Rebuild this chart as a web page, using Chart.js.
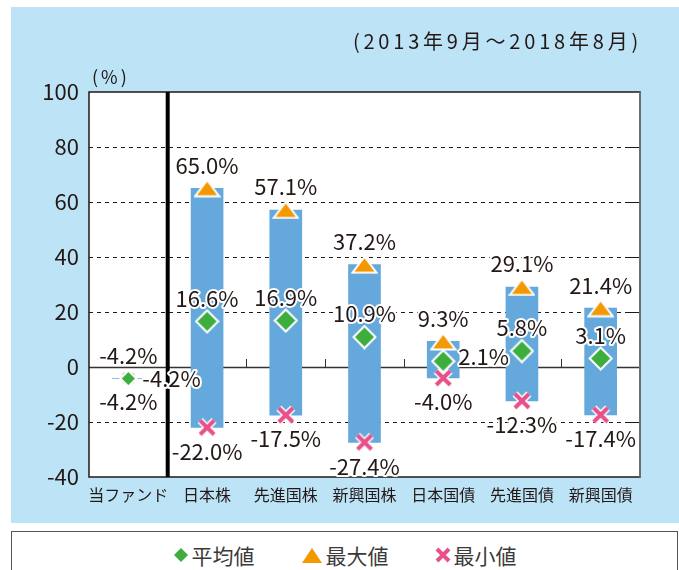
<!DOCTYPE html>
<html lang="ja">
<head>
<meta charset="utf-8">
<script src="https://cdn.jsdelivr.net/npm/chart.js@4.4.1/dist/chart.umd.min.js"></script>
<style>
  html, body { margin: 0; padding: 0; background: #fff; }
  body { width: 679px; height: 570px; position: relative; overflow: hidden;
         font-family: "Noto Sans CJK JP", "Noto Sans", sans-serif; color: #231815; }
  #panel { position: absolute; left: 11px; top: 7px; width: 668px; height: 516px; background: #bde3f7; }
  #chart { position: absolute; left: 0; top: 0; }
  #period { position: absolute; right: 37px; top: 22px; font-size: 20px; letter-spacing: 3.8px; line-height: 24px; }
  #unit { position: absolute; left: 81px; top: 58px; font-size: 18px; letter-spacing: 3px; line-height: 22px; }
  #legend { position: absolute; left: 11px; top: 531px; width: 665px; height: 50px;
            border: 1.5px solid #555; background: #fff; }
  #legend .row { position: absolute; left: 0; right: 0; top: 9px; height: 28px;
                 display: flex; justify-content: center; align-items: center; }
  #legend .item { display: flex; align-items: center; font-size: 21px; color: #3a3a3a; margin: 0 23px; }
  #legend svg { margin-right: 3px; }
</style>
</head>
<body>
<div id="panel">
  <canvas id="chart" width="668" height="516"></canvas>
  <div id="period">(2013年9月〜2018年8月)</div>
  <div id="unit">(%)</div>
</div>
<div id="legend">
  <div class="row">
    <div class="item"><svg width="16" height="16"><polygon points="8,1 15,8 8,15 1,8" fill="#3dae3d"/></svg>平均値</div>
    <div class="item"><svg width="22" height="17"><polygon points="11,1 21,16 1,16" fill="#f39800"/></svg>最大値</div>
    <div class="item"><svg width="16" height="16"><path d="M2 2 L14 14 M14 2 L2 14" stroke="#e8508a" stroke-width="4"/></svg>最小値</div>
  </div>
</div>
<script>
// データ
const categories = ['当ファンド', '日本株', '先進国株', '新興国株', '日本国債', '先進国債', '新興国債'];
const maxValues = [-4.2, 65.0, 57.1, 37.2, 9.3, 29.1, 21.4];
const avgValues = [-4.2, 16.6, 16.9, 10.9, 2.1, 5.8, 3.1];
const minValues = [-4.2, -22.0, -17.5, -27.4, -4.0, -12.3, -17.4];
const yTicks = [-40, -20, 0, 20, 40, 60, 80, 100];

const ranges = minValues.map((v, i) => [v, maxValues[i]]);

// マーカー画像
function diamond(w) {
  const c = document.createElement('canvas');
  const s = w + 4; c.width = s; c.height = s;
  const g = c.getContext('2d');
  g.beginPath();
  g.moveTo(s / 2, 1.5); g.lineTo(s - 1.5, s / 2); g.lineTo(s / 2, s - 1.5); g.lineTo(1.5, s / 2);
  g.closePath();
  g.fillStyle = '#3dae3d'; g.fill();
  g.strokeStyle = '#fff'; g.lineWidth = 2; g.stroke();
  return c;
}
function triangle(w, h) {
  const c = document.createElement('canvas');
  c.width = w + 4; c.height = h + 4;
  const g = c.getContext('2d');
  g.beginPath();
  g.moveTo(c.width / 2, 1.5); g.lineTo(c.width - 1.5, c.height - 1.5); g.lineTo(1.5, c.height - 1.5);
  g.closePath();
  g.fillStyle = '#f39800'; g.fill();
  g.strokeStyle = '#fff'; g.lineWidth = 2; g.stroke();
  return c;
}
function cross(w, lw) {
  const c = document.createElement('canvas');
  const s = w + 8; c.width = s; c.height = s;
  const g = c.getContext('2d');
  const a = 4, b = s - 4;
  const path = () => { g.beginPath(); g.moveTo(a, a); g.lineTo(b, b); g.moveTo(b, a); g.lineTo(a, b); };
  path(); g.strokeStyle = '#fff'; g.lineWidth = lw + 3; g.stroke();
  path(); g.strokeStyle = '#e8508a'; g.lineWidth = lw; g.stroke();
  return c;
}
const dia = diamond(21), diaS = diamond(15);
const tri = triangle(23, 15), triS = triangle(15, 10);
const crs = cross(14, 4), crsS = cross(10, 3);

// 目盛り線・区切り線
const frame = {
  id: 'frame',
  beforeDatasetsDraw(chart) {
    const { ctx, chartArea: a, scales: { x, y } } = chart;
    ctx.save();
    ctx.fillStyle = '#fff';
    ctx.fillRect(a.left, a.top, a.right - a.left, a.bottom - a.top);
    yTicks.forEach(v => {
      const py = Math.round(y.getPixelForValue(v)) + 0.5;
      if (v === 100 || v === -40) return;
      ctx.beginPath();
      if (v === 0) {
        ctx.setLineDash([]); ctx.strokeStyle = '#333'; ctx.lineWidth = 1.5;
        ctx.moveTo(a.left, py); ctx.lineTo(a.right, py); ctx.stroke();
      } else {
        ctx.setLineDash([4, 4]); ctx.strokeStyle = '#231815'; ctx.lineWidth = 1;
        ctx.moveTo(a.left, py); ctx.lineTo(a.right - 13, py); ctx.stroke();
        ctx.beginPath(); ctx.setLineDash([]);
        ctx.moveTo(a.right - 13, py); ctx.lineTo(a.right, py); ctx.stroke();
      }
    });
    // 0線上の小さい目盛り
    const y0 = y.getPixelForValue(0);
    ctx.setLineDash([]); ctx.strokeStyle = '#333'; ctx.lineWidth = 1;
    for (let i = 2; i < categories.length; i++) {
      const px = Math.round((x.getPixelForValue(i - 1) + x.getPixelForValue(i)) / 2) + 0.5;
      ctx.beginPath(); ctx.moveTo(px, y0 - 8); ctx.lineTo(px, y0); ctx.stroke();
    }
    // 枠
    ctx.strokeStyle = '#231815'; ctx.lineWidth = 1.5;
    ctx.strokeRect(a.left, a.top, a.right - a.left, a.bottom - a.top);
    ctx.strokeStyle = '#6e6e6e'; ctx.lineWidth = 2;
    ctx.beginPath(); ctx.moveTo(a.right, a.top); ctx.lineTo(a.right, a.bottom); ctx.stroke();
    // 当ファンドの区切り
    const dx = (x.getPixelForValue(0) + x.getPixelForValue(1)) / 2;
    ctx.strokeStyle = '#000'; ctx.lineWidth = 4;
    ctx.beginPath(); ctx.moveTo(dx, a.top); ctx.lineTo(dx, a.bottom); ctx.stroke();
    ctx.restore();
  }
};

// 数値ラベル
const valueLabels = {
  id: 'valueLabels',
  afterDatasetsDraw(chart) {
    const ctx = chart.ctx;
    ctx.save();
    ctx.font = '22px "Noto Sans CJK JP"';
    ctx.textBaseline = 'middle';
    ctx.lineJoin = 'round';
    const put = (t, px, py, align) => {
      ctx.textAlign = align;
      ctx.strokeStyle = '#fff'; ctx.lineWidth = 4; ctx.strokeText(t, px, py);
      ctx.fillStyle = '#231815'; ctx.fillText(t, px, py);
    };
    const fmt = v => v.toFixed(1) + '%';
    const avgM = chart.getDatasetMeta(1), maxM = chart.getDatasetMeta(2), minM = chart.getDatasetMeta(3);
    categories.forEach((c, i) => {
      const pm = maxM.data[i], pa = avgM.data[i], pn = minM.data[i];
      put(fmt(maxValues[i]), pm.x, pm.y - 23, 'center');
      if (i === 0) put(fmt(avgValues[i]), pa.x + 14, pa.y, 'left');
      else if (i === 4) put(fmt(avgValues[i]), pa.x + 15, pa.y - 5, 'left');
      else put(fmt(avgValues[i]), pa.x, pa.y - 23, 'center');
      put(fmt(minValues[i]), pn.x, pn.y + (i === 0 ? 23 : 24), 'center');
    });
    ctx.restore();
  }
};

const font = { family: '"Noto Sans CJK JP"' };

new Chart(document.getElementById('chart').getContext('2d'), {
  data: {
    labels: categories,
    datasets: [
      { type: 'bar', label: 'range', data: ranges, backgroundColor: '#64a8dc',
        borderWidth: 0, barThickness: 32, order: 10 },
      { type: 'line', label: '平均値', data: avgValues, showLine: false, order: 1,
        pointStyle: c => c.dataIndex === 0 ? diaS : dia, pointRadius: 10 },
      { type: 'line', label: '最大値', data: maxValues, showLine: false, order: 2,
        pointStyle: c => c.dataIndex === 0 ? triS : tri, pointRadius: 10 },
      { type: 'line', label: '最小値', data: minValues, showLine: false, order: 3,
        pointStyle: c => c.dataIndex === 0 ? crsS : crs, pointRadius: 10 }
    ]
  },
  options: {
    responsive: false,
    animation: false,
    layout: { padding: { top: 85, right: 39, left: 0, bottom: 0 } },
    plugins: { legend: { display: false }, tooltip: { enabled: false } },
    scales: {
      x: {
        grid: { display: false, drawTicks: false },
        border: { display: false },
        ticks: { color: '#231815', font: { ...font, size: 16 }, padding: 8, maxRotation: 0, autoSkip: false },
        afterFit: s => { s.height = 46; }
      },
      y: {
        min: -40, max: 100,
        grid: { display: false, drawTicks: false },
        border: { display: false },
        ticks: { color: '#231815', font: { ...font, size: 22 }, padding: 10 },
        afterBuildTicks: s => { s.ticks = yTicks.map(v => ({ value: v })); },
        afterFit: s => { s.width = 78; }
      }
    }
  },
  plugins: [frame, valueLabels]
});
</script>
</body>
</html>
